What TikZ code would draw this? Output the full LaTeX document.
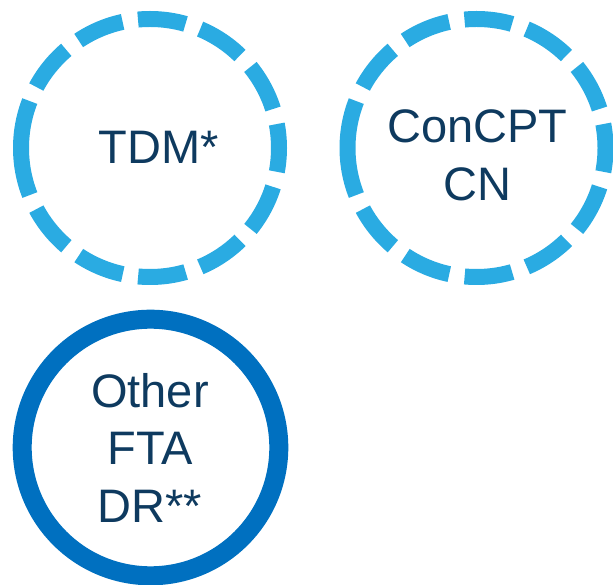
\documentclass[tikz,border=0pt]{standalone}
\usepackage{fontspec}
\setmainfont{Liberation Sans}
\definecolor{ringlight}{HTML}{2AABE2}
\definecolor{ringdark}{HTML}{0070C0}
\definecolor{labelnavy}{HTML}{0E3A5F}
\begin{document}
\begin{tikzpicture}[x=1pt, y=1pt,
  dashring/.style={draw=ringlight, line width=16pt, line cap=butt,
    dash pattern=on 48pt off 15.54pt},
  solidring/.style={draw=ringdark, line width=19pt},
  ringlabel/.style={text=labelnavy, inner sep=0pt, align=center,
    font=\fontsize{47}{57.7}\selectfont}]
  \useasboundingbox (0,0) rectangle (613,584);

  % two dashed rings on top, drawn clockwise from their left point
  \coordinate (c1) at (150,436);
  \coordinate (c2) at (476.5,436);
  \draw[dashring] (c1) ++(180:129) arc[start angle=180, end angle=-180, radius=129];
  \draw[dashring] (c2) ++(180:129) arc[start angle=180, end angle=-180, radius=129];

  % solid ring below
  \coordinate (c3) at (150.5,136.5);
  \draw[solidring] (c3) circle[radius=128.3];

  % labels
  \node[ringlabel, anchor=base] (tdm) at (158.8,420.7) {TDM*};
  \node[ringlabel] (concpt) at (477.2,428.5) {ConCPT\\CN};
  \node[ringlabel] (other) at (150,136.1) {Other\\FTA\\DR**};
\end{tikzpicture}
\end{document}
